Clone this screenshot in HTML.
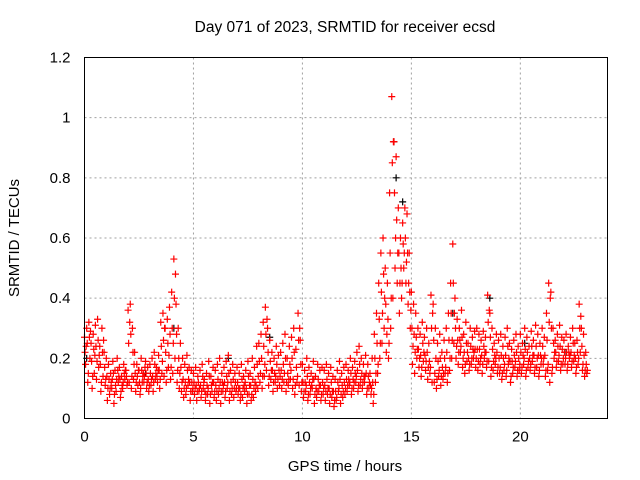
<!DOCTYPE html>
<html><head><meta charset="utf-8"><style>
body{margin:0;background:#fff}
svg{display:block;font-family:"Liberation Sans",sans-serif;font-size:15px}
</style></head><body>
<svg id="chart" width="640" height="480">
<text x="345" y="32" text-anchor="middle" style="font-size:15.5px">Day 071 of 2023, SRMTID for receiver ecsd</text>
<text transform="translate(19,238) rotate(-90)" text-anchor="middle">SRMTID / TECUs</text>
<text x="345" y="471" text-anchor="middle">GPS time / hours</text>
<g id="grid"></g><g id="ticks"></g><g id="marks"></g>
<rect x="84.5" y="57.5" width="523" height="361" fill="none" stroke="#000"/>
</svg>
<script>
const xTicks=[0,5,10,15,20];
const yTicks=[0,0.2,0.4,0.6,0.8,1,1.2];
const yTickLabels=["0","0.2","0.4","0.6","0.8","1","1.2"];
const startHour=0, stepHour=0.1;
const redA=[.27,.30,.32,.25,.28,.31,.33,.24,.30,.22,
.20,.18,.15,.19,.16,.20,.17,.14,.18,.16,
.36,.38,.30,.22,.18,.16,.20,.15,.19,.17,
.18,.20,.22,.17,.21,.32,.35,.30,.33,.37,
.42,.53,.38,.30,.25,.20,.18,.21,.17,.16,
.15,.17,.14,.16,.18,.13,.15,.19,.14,.17,
.16,.18,.20,.15,.17,.19,.21,.16,.18,.15,
.17,.15,.18,.14,.16,.19,.15,.20,.17,.24,
.25,.28,.32,.37,.30,.26,.22,.20,.24,.21,
.22,.25,.28,.20,.24,.27,.30,.23,.35,.26,
.18,.16,.20,.17,.15,.19,.14,.18,.16,.17,
.16,.18,.15,.17,.14,.13,.16,.19,.15,.17,
.18,.16,.20,.17,.19,.22,.24,.20,.18,.21,
.18,.15,.20,.28,.35,.45,.55,.60,.50,.45,
.75,1.07,.92,.87,.70,.60,.65,.70,.68,.55,
.42,.38,.35,.30,.28,.32,.27,.30,.25,.41,
.38,.30,.25,.28,.22,.26,.30,.35,.45,.58,
.40,.33,.30,.36,.28,.32,.25,.30,.27,.29,
.30,.28,.26,.29,.27,.41,.35,.30,.25,.28,
.26,.28,.24,.27,.30,.25,.23,.26,.28,.24,
.28,.25,.30,.27,.24,.29,.26,.31,.28,.25,
.30,.27,.35,.45,.42,.30,.26,.28,.31,.27,
.26,.28,.24,.27,.30,.25,.26,.38,.30,.28,.22];
const redB=[.18,.12,.20,.10,.15,.13,.17,.09,.14,.11,
.06,.08,.10,.05,.09,.12,.07,.10,.13,.11,
.12,.10,.13,.09,.11,.08,.12,.14,.10,.09,
.11,.09,.13,.12,.10,.15,.14,.12,.17,.13,
.15,.20,.12,.10,.09,.07,.08,.11,.06,.09,
.08,.06,.09,.07,.10,.06,.08,.05,.09,.07,
.06,.08,.05,.09,.07,.10,.06,.08,.07,.09,
.08,.06,.07,.09,.05,.08,.06,.07,.09,.10,
.12,.10,.14,.16,.11,.13,.09,.12,.10,.11,
.10,.12,.09,.11,.13,.10,.08,.12,.11,.09,
.07,.09,.06,.08,.10,.05,.07,.09,.06,.08,
.06,.08,.05,.07,.04,.06,.09,.05,.07,.08,
.09,.11,.08,.10,.12,.09,.11,.10,.12,.08,
.10,.08,.05,.12,.15,.20,.25,.30,.22,.20,
.30,.40,.50,.45,.35,.40,.50,.45,.38,.30,
.18,.15,.20,.17,.14,.19,.16,.13,.15,.12,
.12,.10,.14,.11,.13,.15,.12,.16,.20,.25,
.20,.18,.22,.17,.15,.19,.16,.18,.20,.17,
.16,.18,.15,.20,.17,.19,.14,.16,.18,.15,
.15,.13,.16,.14,.18,.12,.15,.17,.14,.16,
.15,.18,.14,.17,.16,.19,.15,.17,.14,.18,
.18,.14,.16,.12,.15,.20,.17,.19,.16,.18,
.18,.16,.20,.17,.19,.15,.18,.22,.16,.14,.15];
const redC=[.22,.25,.27,.19,.23,.24,.26,.18,.22,.17,
.14,.13,.12,.15,.11,.16,.13,.11,.15,.14,
.25,.28,.22,.15,.14,.12,.16,.12,.15,.13,
.15,.14,.18,.14,.16,.24,.26,.22,.25,.28,
.30,.40,.28,.20,.17,.13,.12,.16,.12,.12,
.12,.11,.12,.11,.14,.09,.11,.14,.11,.12,
.11,.13,.12,.12,.12,.14,.15,.12,.13,.12,
.12,.10,.13,.11,.10,.14,.11,.13,.12,.18,
.19,.20,.24,.28,.22,.19,.16,.15,.18,.16,
.16,.18,.20,.15,.18,.20,.22,.17,.26,.18,
.12,.12,.14,.12,.11,.13,.10,.13,.11,.12,
.11,.13,.10,.12,.09,.09,.12,.13,.11,.12,
.13,.13,.15,.13,.15,.16,.18,.15,.14,.15,
.14,.11,.12,.20,.25,.33,.42,.48,.38,.33,
.55,.85,.75,.66,.55,.50,.58,.60,.55,.42,
.30,.28,.27,.23,.21,.25,.21,.22,.19,.30,
.26,.20,.19,.20,.17,.20,.22,.26,.35,.45,
.30,.26,.26,.27,.22,.25,.20,.24,.23,.23,
.23,.23,.21,.24,.22,.32,.27,.23,.21,.22,
.20,.21,.20,.21,.24,.19,.19,.21,.22,.20,
.22,.21,.23,.22,.20,.24,.21,.24,.21,.21,
.24,.21,.26,.32,.30,.25,.22,.24,.24,.23,
.22,.22,.22,.22,.25,.20,.22,.30,.24,.21,.18];
const redD=[.24,.15,.29,.14,.21,.19,.21,.12,.26,.13,
.10,.10,.13,.08,.13,.14,.09,.12,.16,.12,
.32,.14,.18,.12,.16,.10,.14,.17,.12,.11,
.13,.12,.15,.16,.13,.19,.30,.16,.21,.17,
.25,.48,.16,.15,.12,.10,.10,.13,.09,.10,
.10,.09,.10,.09,.12,.08,.10,.08,.12,.09,
.09,.10,.09,.11,.09,.12,.09,.10,.10,.10,
.10,.08,.10,.12,.08,.11,.08,.10,.11,.14,
.15,.14,.18,.33,.14,.16,.12,.14,.13,.14,
.13,.15,.12,.13,.16,.13,.11,.14,.30,.12,
.09,.11,.08,.10,.13,.08,.09,.11,.08,.10,
.09,.10,.08,.09,.06,.07,.10,.08,.09,.10,
.11,.12,.10,.12,.14,.11,.13,.12,.14,.10,
.12,.10,.08,.15,.18,.25,.35,.40,.28,.25,
.40,.92,.60,.55,.45,.45,.55,.52,.45,.36,
.24,.22,.23,.20,.17,.22,.19,.17,.17,.35,
.15,.13,.16,.14,.15,.17,.15,.20,.26,.35,
.24,.22,.24,.20,.18,.22,.18,.20,.22,.20,
.19,.20,.18,.22,.19,.36,.17,.19,.20,.17,
.17,.15,.18,.16,.20,.14,.17,.19,.16,.18,
.17,.20,.16,.19,.18,.21,.17,.20,.16,.20,
.20,.16,.18,.40,.17,.22,.19,.21,.18,.20,
.20,.18,.21,.19,.21,.17,.20,.34,.18,.16,.16];
const blackX=[0.1,2.8,4.1,6.6,8.5,14.2,14.3,14.6,16.9,18.6,20.2,22.1];
const blackY=[0.20,0.15,0.30,0.20,0.27,0.92,0.80,0.72,0.35,0.40,0.25,0.22];

const X0=84.5,X1=607.5,Y0=418.5,Y1=57.5;
const xs=h=>X0+(h/24)*(X1-X0);
const ys=v=>Y0-(v/1.2)*(Y0-Y1);
const NS="http://www.w3.org/2000/svg";
function mk(tag,attrs,parent){const e=document.createElementNS(NS,tag);for(const k in attrs)e.setAttribute(k,attrs[k]);parent.appendChild(e);return e;}
const grid=document.getElementById('grid'),ticks=document.getElementById('ticks'),marks=document.getElementById('marks');
xTicks.forEach(t=>{const x=xs(t);
 if(t>0){const g=mk('line',{x1:x,x2:x,y1:Y1,y2:Y0,stroke:'#a0a0a0','stroke-dasharray':'2,3'},grid);
 
 }
 const l=mk('text',{x:x,y:Y0+23,'text-anchor':'middle'},ticks);l.textContent=t;
 
 });
yTicks.forEach((t,i)=>{const y=ys(t);
 if(t>0){const g=mk('line',{x1:X0,x2:X1,y1:y,y2:y,stroke:'#a0a0a0','stroke-dasharray':'2,3'},grid);
 
 }
 const l=mk('text',{x:X0-14,y:y+5,'text-anchor':'end'},ticks);l.textContent=yTickLabels[i];
 
 });
function plus(h,v,col,name){const x=xs(h),y=ys(v);
 const p=mk('path',{d:`M${x-3.5},${y}h7M${x},${y-3.5}v7`,stroke:col,'stroke-width':1.2,fill:'none'},marks);
 
 }
blackX.forEach((h,i)=>plus(h,blackY[i],'#000','black-point'));
redA.forEach((v,i)=>plus(startHour+i*stepHour,v,'#f00','red-point'));
redB.forEach((v,i)=>plus(startHour+i*stepHour+0.05,v,'#f00','red-point'));
redC.forEach((v,i)=>plus(startHour+i*stepHour+0.025,v,'#f00','red-point'));
redD.forEach((v,i)=>plus(startHour+i*stepHour+0.075,v,'#f00','red-point'));
</script>
</body></html>
